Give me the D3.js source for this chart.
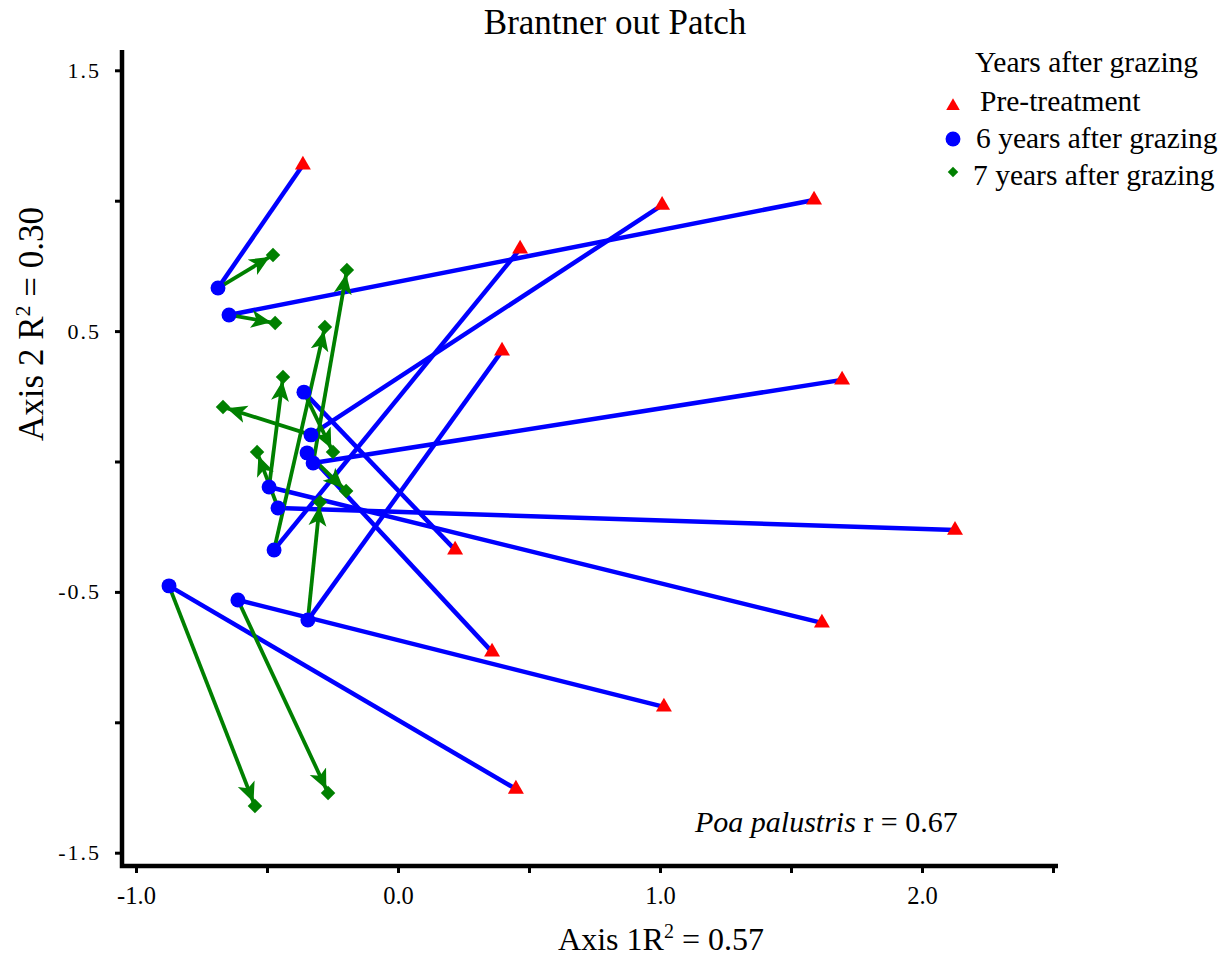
<!DOCTYPE html>
<html>
<head>
<meta charset="utf-8">
<script src="https://cdn.jsdelivr.net/npm/d3@7"></script>
<style>
  body { margin: 0; background: #fff; }
  text { font-family: "Liberation Serif", "Times New Roman", serif; fill: #000; }
</style>
</head>
<body>
<svg id="chart" width="1231" height="958"></svg>
<script>
// plot scores, one entry per plot
const preTreatment = [
  [-0.363, 1.137], [1.588, 1.003], [0.218, -0.339], [1.008, 0.983],
  [0.359, -0.730], [1.695, 0.313], [1.618, -0.619], [2.126, -0.263],
  [0.466, 0.815], [0.450, -1.256], [1.015, -0.941], [0.397, 0.424]
]
const sixYears = [
  [-0.687, 0.665], [-0.645, 0.562], [-0.359, 0.266], [-0.332, 0.102],
  [-0.347, 0.033], [-0.324, -0.006], [-0.492, -0.098], [-0.458, -0.178],
  [-0.473, -0.339], [-0.874, -0.477], [-0.611, -0.531], [-0.344, -0.608]
]
const sevenYears = [
  [-0.477, 0.792], [-0.469, 0.531], [-0.248, 0.036], [-0.668, 0.209],
  [-0.198, -0.113], [-0.195, 0.734], [-0.439, 0.324], [-0.538, 0.036],
  [-0.279, 0.516], [-0.546, -1.321], [-0.267, -1.271], [-0.298, -0.155]
]
const xTicks = [-1.0, -0.5, 0.0, 0.5, 1.0, 1.5, 2.0, 2.5]
const xTickLabels = ["-1.0", "", "0.0", "", "1.0", "", "2.0", ""]
const yTicks = [-1.5, -1.0, -0.5, 0.0, 0.5, 1.0, 1.5]
const yTickLabels = ["-1.5", "", "-0.5", "", "0.5", "", "1.5"]
const legendLabels = ["Pre-treatment", "6 years after grazing", "7 years after grazing"]

const svg = d3.select("#chart")

const box = { left: 122, right: 1058, top: 50, bottom: 866 }

const x = d3.scaleLinear().domain([-1, 2.5]).range([136, 1053])
const y = d3.scaleLinear().domain([-1.5, 1.5]).range([852.7, 70.3])

// arrow head for the green segments
svg.append("defs").append("marker")
    .attr("id", "arrow")
    .attr("viewBox", "0 -10 26 20")
    .attr("markerUnits", "userSpaceOnUse")
    .attr("markerWidth", 26)
    .attr("markerHeight", 20)
    .attr("refX", 24)
    .attr("refY", 0)
    .attr("orient", "auto")
  .append("path")
    .attr("d", "M0,-9L20,0L0,9L5,0Z")
    .attr("fill", "#008000")

// axes
const xAxis = d3.axisBottom(x).tickValues(xTicks)
    .tickFormat((d, i) => xTickLabels[i]).tickSize(7).tickPadding(14)
const yAxis = d3.axisLeft(y).tickValues(yTicks)
    .tickFormat((d, i) => yTickLabels[i]).tickSize(7).tickPadding(14)

const gx = svg.append("g").attr("transform", `translate(0,${box.bottom})`).call(xAxis)
const gy = svg.append("g").attr("transform", `translate(${box.left},0)`).call(yAxis)
gx.select(".domain").remove()
gy.select(".domain").remove()
gx.selectAll(".tick line").attr("stroke", "#000").attr("stroke-width", 3)
gy.selectAll(".tick line").attr("stroke", "#000").attr("stroke-width", 3)
gx.selectAll(".tick text").attr("font-size", 24.5).attr("font-family", "Liberation Serif")
gy.selectAll(".tick text").attr("font-size", 22).attr("font-family", "Liberation Serif")
    .attr("letter-spacing", 2)

svg.append("path")
    .attr("d", `M${box.left},${box.top}V${box.bottom}H${box.right}`)
    .attr("fill", "none").attr("stroke", "#000").attr("stroke-width", 4.5)

// blue: pre-treatment -> 6 years
svg.append("g").selectAll("line")
  .data(preTreatment)
  .join("line")
    .attr("x1", d => x(d[0])).attr("y1", d => y(d[1]))
    .attr("x2", (d, i) => x(sixYears[i][0])).attr("y2", (d, i) => y(sixYears[i][1]))
    .attr("stroke", "#0000ff").attr("stroke-width", 4.5)

// green: 6 years -> 7 years
svg.append("g").selectAll("line")
  .data(sixYears)
  .join("line")
    .attr("x1", d => x(d[0])).attr("y1", d => y(d[1]))
    .attr("x2", (d, i) => x(sevenYears[i][0])).attr("y2", (d, i) => y(sevenYears[i][1]))
    .attr("stroke", "#008000").attr("stroke-width", 3.8)
    .attr("marker-end", "url(#arrow)")

const tri = d3.symbol().type(d3.symbolTriangle).size(110)
const circ = d3.symbol().type(d3.symbolCircle).size(175)
const diam = d3.symbol().type(d3.symbolSquare).size(105)

svg.append("g").selectAll("path")
  .data(preTreatment)
  .join("path")
    .attr("d", tri)
    .attr("transform", d => `translate(${x(d[0])},${y(d[1])})`)
    .attr("fill", "#ff0000")

svg.append("g").selectAll("path")
  .data(sixYears)
  .join("path")
    .attr("d", circ)
    .attr("transform", d => `translate(${x(d[0])},${y(d[1])})`)
    .attr("fill", "#0000ff")

svg.append("g").selectAll("path")
  .data(sevenYears)
  .join("path")
    .attr("d", diam)
    .attr("transform", d => `translate(${x(d[0])},${y(d[1])}) rotate(45)`)
    .attr("fill", "#008000")

// titles
svg.append("text")
    .attr("x", 615).attr("y", 34)
    .attr("text-anchor", "middle").attr("font-size", 35)
    .text("Brantner out Patch")

const xTitle = svg.append("text")
    .attr("x", 661).attr("y", 950)
    .attr("text-anchor", "middle").attr("font-size", 32)
xTitle.append("tspan").text("Axis 1R")
xTitle.append("tspan").attr("font-size", 20).attr("dy", -12).text("2")
xTitle.append("tspan").attr("dy", 12).text(" = 0.57")

const yTitle = svg.append("text")
    .attr("transform", "translate(43,324) rotate(-90)")
    .attr("text-anchor", "middle").attr("font-size", 35)
yTitle.append("tspan").text("Axis 2 R")
yTitle.append("tspan").attr("font-size", 22).attr("dy", -13).text("2")
yTitle.append("tspan").attr("dy", 13).text(" = 0.30")

const note = svg.append("text")
    .attr("x", 695).attr("y", 832).attr("font-size", 30)
note.append("tspan").attr("font-style", "italic").text("Poa palustris")
note.append("tspan").text(" r = 0.67")

// legend
const legend = svg.append("g")
legend.append("text")
    .attr("x", 975).attr("y", 72).attr("font-size", 29.5)
    .text("Years after grazing")

const legendSymbols = [
  { sym: d3.symbol().type(d3.symbolTriangle).size(80), color: "#ff0000", rot: 0, tx: 980 },
  { sym: d3.symbol().type(d3.symbolCircle).size(175), color: "#0000ff", rot: 0, tx: 976 },
  { sym: d3.symbol().type(d3.symbolSquare).size(55), color: "#008000", rot: 45, tx: 973 }
]
legendLabels.forEach((label, i) => {
  const cy = 106 + 33 * i
  legend.append("path")
      .attr("d", legendSymbols[i].sym)
      .attr("transform", `translate(953,${cy}) rotate(${legendSymbols[i].rot})`)
      .attr("fill", legendSymbols[i].color)
  legend.append("text")
      .attr("x", legendSymbols[i].tx).attr("y", 111 + 37 * i)
      .attr("font-size", 29.5)
      .text(label)
})
</script>
</body>
</html>
